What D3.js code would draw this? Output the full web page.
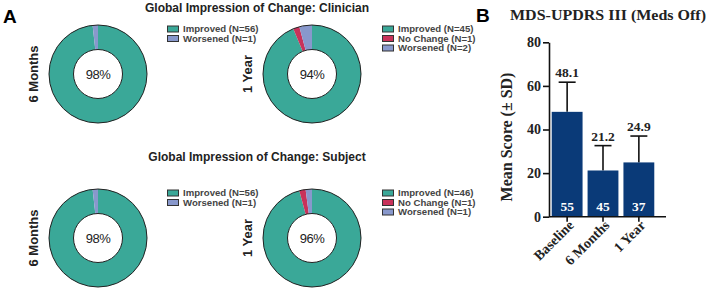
<!DOCTYPE html>
<html>
<head>
<meta charset="utf-8">
<script src="https://cdn.jsdelivr.net/npm/d3@7"></script>
<style>
  body { margin: 0; background: #fff; }
  svg { display: block; }
</style>
</head>
<body>
<svg id="chart" width="709" height="289"></svg>
<script>
// donut data
const categories = ['Improved', 'No Change', 'Worsened'];
const clin6m = [56, 0, 1];
const clin1y = [45, 1, 2];
const subj6m = [56, 0, 1];
const subj1y = [46, 1, 1];
const pctLabels = ['98%', '94%', '98%', '96%'];

// bar data
const timepoints = ['Baseline', '6 Months', '1 Year'];
const means = [48.1, 21.2, 24.9];
const sds = [13.6, 11.4, 12.1];
const nCounts = [55, 45, 37];
const yTicks = [0, 20, 40, 60, 80];

const colors = { 'Improved': '#3aa898', 'No Change': '#c8325a', 'Worsened': '#8898cc' };

const svg = d3.select('#chart');
const sans = 'Liberation Sans, Arial, sans-serif';
const serif = 'Liberation Serif, DejaVu Serif, serif';

// panel letters
svg.append('text').attr('x', 3).attr('y', 23).attr('font-family', sans)
  .attr('font-weight', 'bold').attr('font-size', 19).text('A');
svg.append('text').attr('x', 476).attr('y', 22).attr('font-family', sans)
  .attr('font-weight', 'bold').attr('font-size', 19).text('B');

// section titles
const titles = [['Global Impression of Change: Clinician', 12], ['Global Impression of Change: Subject', 161]];
titles.forEach(t => {
  svg.append('text').attr('x', 257).attr('y', t[1]).attr('text-anchor', 'middle')
    .attr('font-family', sans).attr('font-weight', 'bold').attr('font-size', 12)
    .attr('fill', '#222').text(t[0]);
});

const pie = d3.pie().sort(null).value(d => d.v);
const arc = d3.arc().innerRadius(24.5).outerRadius(49);

const donuts = [
  { vals: clin6m, cx: 98, cy: 74, row: '6 Months', lx: 167 },
  { vals: clin1y, cx: 312, cy: 74, row: '1 Year', lx: 382 },
  { vals: subj6m, cx: 98, cy: 238, row: '6 Months', lx: 167 },
  { vals: subj1y, cx: 312, cy: 238, row: '1 Year', lx: 382 }
];

donuts.forEach((dn, i) => {
  const data = categories.map((c, j) => ({ c: c, v: dn.vals[j] })).filter(d => d.v > 0);
  const g = svg.append('g').attr('transform', `translate(${dn.cx},${dn.cy})`);
  g.selectAll('path').data(pie(data)).enter().append('path')
    .attr('d', arc).attr('fill', d => colors[d.data.c]);
  g.append('circle').attr('r', 49).attr('fill', 'none').attr('stroke', '#222').attr('stroke-width', 1);
  g.append('circle').attr('r', 24.5).attr('fill', 'none').attr('stroke', '#222').attr('stroke-width', 1);
  g.append('text').attr('text-anchor', 'middle').attr('dy', '0.35em')
    .attr('font-family', sans).attr('font-size', 13).attr('fill', '#222')
    .attr('letter-spacing', -0.5).text(pctLabels[i]);

  // row label
  svg.append('text')
    .attr('transform', `translate(${dn.cx - 60},${dn.cy}) rotate(-90)`)
    .attr('text-anchor', 'middle').attr('font-family', sans)
    .attr('font-weight', 'bold').attr('font-size', 13).attr('fill', '#222')
    .text(dn.row);

  // legend
  const lg = svg.append('g').attr('transform', `translate(${dn.lx},${dn.cy - 45})`);
  data.forEach((d, k) => {
    lg.append('rect').attr('x', 0.5).attr('y', k * 9.5 - 3).attr('width', 11).attr('height', 6)
      .attr('fill', colors[d.c]).attr('stroke', '#333').attr('stroke-width', 1);
    lg.append('text').attr('x', 16).attr('y', k * 9.5 + 3.2)
      .attr('font-family', sans).attr('font-weight', 'bold').attr('font-size', 9.6)
      .attr('fill', '#444').text(`${d.c} (N=${d.v})`);
  });
});

// bar chart
const bx0 = 549, bx1 = 666;
const yScale = d3.scaleLinear().domain([0, 80]).range([216.7, 42.3]);
const xScale = d3.scaleBand().domain(timepoints).range([bx0 + 2, bx1 - 11]).paddingInner(0.14).paddingOuter(0.02);

const bg = svg.append('g');
const barColor = '#0a3a78';

// error bars (drawn first, behind bar)
timepoints.forEach((t, i) => {
  const cx = xScale(t) + xScale.bandwidth() / 2;
  const top = yScale(means[i] + sds[i]);
  bg.append('line').attr('x1', cx).attr('x2', cx).attr('y1', yScale(means[i])).attr('y2', top)
    .attr('stroke', '#111').attr('stroke-width', 1.6);
  bg.append('line').attr('x1', cx - 8.5).attr('x2', cx + 8.5).attr('y1', top).attr('y2', top)
    .attr('stroke', '#111').attr('stroke-width', 1.6);
  bg.append('text').attr('x', cx).attr('y', top - 5).attr('text-anchor', 'middle')
    .attr('font-family', serif).attr('font-weight', 'bold').attr('font-size', 13.5)
    .attr('fill', '#222').text(means[i].toFixed(1));
});

bg.selectAll('rect.bar').data(timepoints).enter().append('rect')
  .attr('class', 'bar')
  .attr('x', d => xScale(d))
  .attr('width', xScale.bandwidth())
  .attr('y', (d, i) => yScale(means[i]))
  .attr('height', (d, i) => yScale(0) - yScale(means[i]))
  .attr('fill', barColor);

bg.selectAll('text.n').data(timepoints).enter().append('text')
  .attr('class', 'n')
  .attr('x', d => xScale(d) + xScale.bandwidth() / 2)
  .attr('y', 211)
  .attr('text-anchor', 'middle').attr('font-family', serif).attr('font-weight', 'bold')
  .attr('font-size', 13.5).attr('fill', '#fff')
  .text((d, i) => nCounts[i]);

// y axis
const yAxis = bg.append('g').attr('transform', `translate(${bx0},0)`)
  .call(d3.axisLeft(yScale).tickValues(yTicks).tickSize(6).tickSizeOuter(0));
yAxis.select('.domain').attr('stroke', '#111').attr('stroke-width', 1.6);
yAxis.selectAll('.tick line').attr('stroke', '#111').attr('stroke-width', 1.6);
yAxis.selectAll('.tick text').attr('font-family', serif).attr('font-weight', 'bold')
  .attr('font-size', 14).attr('fill', '#222').attr('x', -8);

// x axis
const xAxis = bg.append('g').attr('transform', `translate(0,${yScale(0)})`)
  .call(d3.axisBottom(xScale).tickSize(5).tickSizeOuter(0));
xAxis.select('.domain').attr('stroke', '#111').attr('stroke-width', 1.6)
  .attr('d', `M${bx0},0H${bx1}`);
xAxis.selectAll('.tick line').attr('stroke', '#111').attr('stroke-width', 1.6);
xAxis.selectAll('.tick text').attr('font-family', serif).attr('font-weight', 'bold')
  .attr('font-size', 14).attr('fill', '#222')
  .attr('text-anchor', 'end').attr('transform', 'translate(4,6) rotate(-45)')
  .attr('dy', '0.35em').attr('y', 0).attr('x', 0);

svg.append('text').attr('transform', 'translate(512,137) rotate(-90)')
  .attr('text-anchor', 'middle').attr('font-family', serif).attr('font-weight', 'bold')
  .attr('font-size', 16).attr('fill', '#222').text('Mean Score (± SD)');

svg.append('text').attr('x', 608).attr('y', 20).attr('text-anchor', 'middle')
  .attr('font-family', serif).attr('font-weight', 'bold').attr('font-size', 15)
  .attr('textLength', 196).attr('lengthAdjust', 'spacingAndGlyphs')
  .attr('fill', '#222').text('MDS-UPDRS III (Meds Off)');
</script>
</body>
</html>
